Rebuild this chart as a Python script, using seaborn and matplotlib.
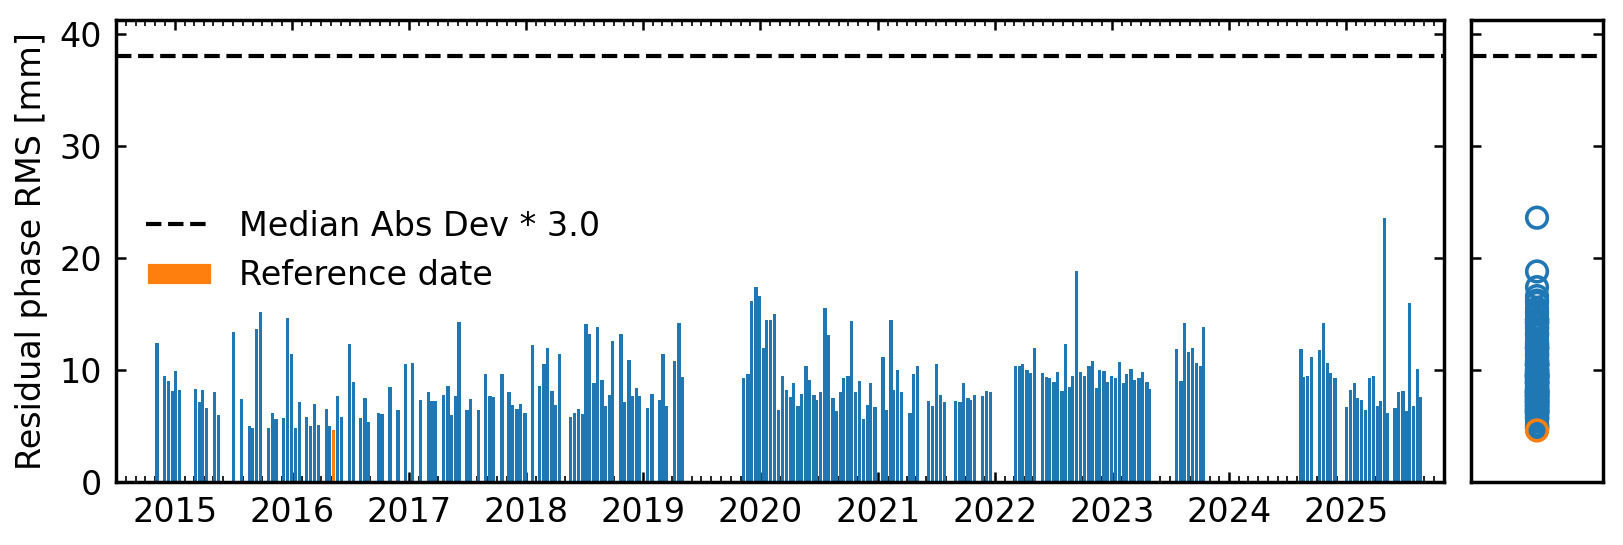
import numpy as np
import pandas as pd
import matplotlib
matplotlib.use("Agg")
import matplotlib.pyplot as plt
import matplotlib.dates as mdates
from matplotlib.lines import Line2D
from matplotlib.patches import Patch
import seaborn as sns

# ---------------------------------------------------------------
# Datos: días desde EPOCH y RMS de fase [mm]
# ---------------------------------------------------------------
EPOCH = "2015-01-01"

acq_days = [
    -55, -31, -19, -7, 3, 16, 65, 77, 87, 100,
    125, 137, 184, 209, 233, 243, 256, 268, 293, 305,
    316, 340, 352, 365, 377, 390, 411, 424, 436, 449,
    473, 483, 496, 508, 521, 546, 557, 580, 593, 605,
    635, 646, 671, 696, 719, 742, 767, 792, 802, 814,
    839, 852, 864, 875, 886, 911, 923, 948, 970, 983,
    995, 1020, 1042, 1054, 1067, 1079, 1092, 1115, 1138, 1151,
    1163, 1176, 1188, 1200, 1235, 1247, 1260, 1272, 1282, 1294,
    1307, 1319, 1332, 1344, 1355, 1366, 1391, 1403, 1416, 1428,
    1439, 1450, 1475, 1488, 1512, 1522, 1534, 1559, 1572, 1584,
    1774, 1787, 1799, 1812, 1824, 1835, 1846, 1858, 1871, 1883,
    1896, 1908, 1919, 1930, 1943, 1955, 1968, 1980, 1993, 2002,
    2014, 2027, 2039, 2052, 2064, 2075, 2086, 2099, 2111, 2123,
    2136, 2148, 2159, 2170, 2183, 2208, 2220, 2233, 2242, 2254,
    2267, 2292, 2304, 2315, 2351, 2363, 2376, 2388, 2399, 2435,
    2448, 2460, 2473, 2482, 2494, 2519, 2532, 2544, 2622, 2633,
    2644, 2657, 2669, 2681, 2706, 2717, 2728, 2741, 2753, 2766,
    2778, 2791, 2800, 2812, 2825, 2837, 2850, 2862, 2873, 2884,
    2897, 2909, 2921, 2934, 2946, 2957, 2968, 2981, 2993, 3006,
    3018, 3031, 3040, 3124, 3137, 3149, 3161, 3174, 3186, 3197,
    3208, 3511, 3520, 3532, 3545, 3570, 3582, 3593, 3604, 3617,
    3654, 3666, 3677, 3688, 3701, 3713, 3726, 3738, 3751, 3760,
    3772, 3780, 3804, 3816, 3829, 3839, 3850, 3863, 3875, 3883,
]

rms_mm = [
    12.4, 9.5, 9.0, 8.1, 9.9, 8.2, 8.3, 7.1, 8.2, 6.6,
    8.0, 6.0, 13.4, 7.4, 5.0, 4.8, 13.7, 15.2, 4.8, 6.2,
    5.6, 5.7, 14.6, 11.4, 4.8, 7.1, 5.8, 5.0, 7.0, 5.1,
    6.5, 5.0, 4.6, 7.7, 5.8, 12.3, 8.9, 5.7, 7.5, 5.4,
    6.2, 6.1, 8.5, 6.4, 10.5, 10.6, 7.3, 8.0, 7.2, 7.2,
    7.8, 8.6, 6.0, 7.7, 14.3, 6.4, 7.4, 6.4, 9.6, 7.7,
    7.6, 9.6, 8.0, 6.9, 6.5, 7.0, 6.2, 12.2, 8.6, 10.5,
    12.0, 8.1, 6.9, 11.4, 5.8, 6.2, 6.5, 6.1, 14.1, 13.2,
    8.8, 13.8, 9.1, 6.8, 7.8, 12.6, 13.2, 7.1, 10.9, 7.7,
    8.4, 7.7, 6.6, 7.9, 7.3, 11.4, 6.8, 10.8, 14.2, 9.4,
    9.3, 9.6, 16.2, 17.4, 16.6, 12.0, 14.5, 14.5, 15.0, 6.4,
    9.5, 8.2, 7.6, 8.8, 6.8, 7.9, 10.4, 9.1, 7.8, 7.3,
    8.0, 15.5, 13.1, 7.5, 6.3, 8.0, 9.3, 9.5, 14.4, 8.0,
    9.0, 5.6, 6.9, 8.8, 6.7, 11.2, 6.4, 14.5, 8.2, 10.0,
    8.0, 6.2, 9.6, 10.4, 7.2, 6.8, 10.5, 7.8, 7.1, 7.2,
    7.1, 8.8, 7.5, 7.3, 7.8, 7.7, 8.1, 8.0, 10.4, 10.4,
    10.5, 10.0, 9.7, 12.0, 9.7, 9.4, 9.3, 8.9, 9.8, 8.1,
    12.3, 8.5, 9.5, 18.8, 9.8, 9.5, 10.4, 10.8, 8.4, 10.0,
    9.9, 8.9, 9.5, 9.3, 10.7, 8.8, 9.6, 10.1, 9.1, 9.3,
    9.8, 8.9, 8.3, 11.9, 9.0, 14.2, 11.6, 12.0, 10.6, 10.4,
    13.8, 11.9, 9.4, 9.5, 11.2, 11.8, 14.2, 10.6, 9.7, 9.3,
    6.7, 8.2, 8.8, 7.5, 7.3, 6.4, 9.3, 9.5, 6.8, 7.2,
    23.6, 6.2, 6.6, 8.0, 8.1, 6.3, 16.0, 6.8, 10.1, 7.6,
]

ref_day = 496          # fecha de referencia (barra naranja)
mad_factor = 3.0
mad_threshold = 38.0   # Median Abs Dev * 3.0 [mm]

BLUE = "#1f77b4"
ORANGE = "#ff7f0e"
BAR_DAYS = 10.0

# ---------------------------------------------------------------
# Tema
# ---------------------------------------------------------------
sns.set_theme(style="ticks")
plt.rcParams.update(
    {
        "font.family": ["DejaVu Sans"],
        "font.size": 12,
        "axes.labelsize": 12,
        "xtick.labelsize": 12,
        "ytick.labelsize": 12,
        "legend.fontsize": 12,
        "axes.linewidth": 1.25,
        "axes.edgecolor": "black",
        "axes.labelcolor": "black",
        "text.color": "black",
        "xtick.color": "black",
        "ytick.color": "black",
        "xtick.major.size": 3.5,
        "ytick.major.size": 3.5,
        "xtick.minor.size": 2.0,
        "xtick.major.width": 0.9,
        "ytick.major.width": 0.9,
        "xtick.minor.width": 0.6,
        "xtick.major.pad": 5.0,
        "ytick.major.pad": 5.0,
        "axes.grid": False,
    }
)

dates = pd.Timestamp(EPOCH) + pd.to_timedelta(acq_days, unit="D")
df = pd.DataFrame(
    {
        "x": mdates.date2num(dates.values),
        "rms": rms_mm,
        "ref": np.array(acq_days) == ref_day,
    }
)
blue = df[~df["ref"]]
ref = df[df["ref"]]

fig = plt.figure(figsize=(8.12, 2.725), dpi=200)
ax = fig.add_axes([0.07125, 0.1156, 0.8179, 0.8477])
ax2 = fig.add_axes([0.9058, 0.1156, 0.0813, 0.8477])

# Barras (escala temporal nativa)
min_gap = np.min(np.diff(np.sort(blue["x"].values)))
sns.barplot(data=blue, x="x", y="rms", native_scale=True, orient="x",
            color=BLUE, saturation=1, width=BAR_DAYS / min_gap,
            errorbar=None, linewidth=0, ax=ax)
sns.barplot(data=ref, x="x", y="rms", native_scale=True, orient="x",
            color=ORANGE, saturation=1, width=BAR_DAYS,
            errorbar=None, linewidth=0, ax=ax)
ax.axhline(mad_threshold, color="black", ls="--", lw=1.5)

ax.set_xlim(mdates.date2num(np.datetime64("2014-07-01")),
            mdates.date2num(np.datetime64("2025-11-01")))
ax.xaxis.set_major_locator(mdates.YearLocator())
ax.xaxis.set_major_formatter(mdates.DateFormatter("%Y"))
ax.xaxis.set_minor_locator(mdates.MonthLocator())
ax.set_ylim(0, 41.25)
ax.set_yticks([0, 10, 20, 30, 40])
ax.tick_params(which="both", direction="in", top=True, right=True)
ax.set_xlabel("")
ax.set_ylabel("Residual phase RMS [mm]")

handles = [Line2D([], [], color="black", ls="--", lw=1.5), Patch(facecolor=ORANGE)]
ax.legend(handles, [f"Median Abs Dev * {mad_factor:.1f}", "Reference date"],
          loc="center left", frameon=False)

# Panel derecho: distribución de valores
sns.scatterplot(x=np.zeros(len(blue)), y=blue["rms"].values, ax=ax2, s=55,
                color=BLUE, facecolor="none", edgecolor=BLUE, linewidth=1.3,
                legend=False)
sns.scatterplot(x=np.zeros(len(ref)), y=ref["rms"].values, ax=ax2, s=55,
                color=ORANGE, facecolor="none", edgecolor=ORANGE, linewidth=1.3,
                legend=False)
ax2.axhline(mad_threshold, color="black", ls="--", lw=1.5)
ax2.set_xlim(-1, 1)
ax2.set_xticks([])
ax2.set_ylim(0, 41.25)
ax2.set_yticks([0, 10, 20, 30, 40])
ax2.tick_params(axis="y", direction="in", left=True, right=True, labelleft=False)
ax2.set_xlabel("")
ax2.set_ylabel("")

fig.savefig("out.png", dpi=200)
